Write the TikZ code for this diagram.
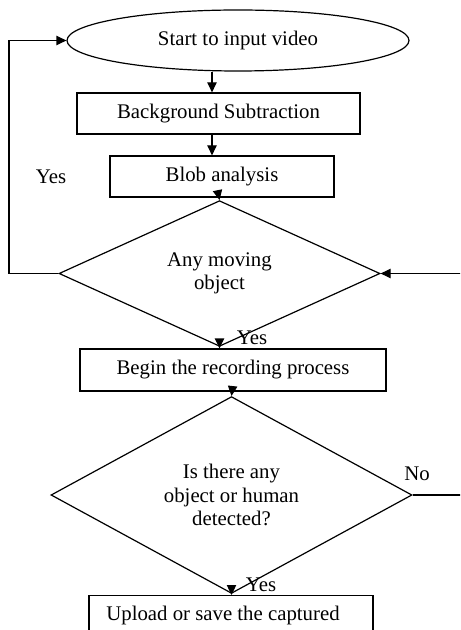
\documentclass[tikz,border=0pt]{standalone}
\usepackage{fontspec}
\setmainfont{Liberation Serif}
\usetikzlibrary{shapes.geometric,arrows.meta}
\begin{document}
\begin{tikzpicture}[x=0.75pt,y=-0.75pt,
  every node/.style={font=\fontsize{15.6}{17.6}\selectfont},
  ln/.style={line width=0.9pt},
  arr/.style={ln,-{Triangle[length=7.5pt,width=7pt]}},
  box/.style={draw,ln,rectangle,inner sep=0pt},
  term/.style={draw,ln,ellipse,inner sep=0pt},
  dec/.style={draw,ln,diamond,inner sep=0pt,align=center}]
\useasboundingbox (0,0) rectangle (460,630);
\clip (0,0) rectangle (460,630);
% nodes
\node[term,minimum width=256.5pt,minimum height=45.75pt] (start) at (238,40.5) {Start to input video};
\node[box,minimum width=212.25pt,minimum height=30.75pt] (bs) at (218.5,113.5) {Background Subtraction};
\node[box,minimum width=168pt,minimum height=30.75pt] (blob) at (222,176.5) {Blob analysis};
\node[dec,minimum width=240.75pt,minimum height=89.25pt] (d1) at (219.5,273.5) {\raisebox{-3pt}{\shortstack{Any moving\\object}}};
\node[box,minimum width=229.5pt,minimum height=31.5pt] (rec) at (233,370) {Begin the recording process};
\node[dec,minimum width=270.75pt,minimum height=124.5pt] (d2) at (231.5,495) {Is there any\\object or human\\detected?};
\node[box,anchor=north,minimum width=213pt,minimum height=60pt] (up) at (231,595) {};
\node (uptext) at (223,615) {Upload or save the captured};
% labels
\node (yesL) at (51,177) {Yes};
\node (yes1) at (252,338) {Yes};
\node (yes2) at (261,585) {Yes};
\node (no) at (417,474) {No};
% helper coordinates
\coordinate (xa) at (212,0);
\coordinate (xb) at (219,0);
\coordinate (xc) at (232,0);
\coordinate (lx) at (9,0);
\coordinate (rx) at (470,0);
% connectors
\draw[arr] (start.south -| xa) -- (bs.north -| xa);
\draw[arr] (bs.south -| xa) -- (blob.north -| xa);
\draw[arr] (blob.south -| xb) -- (d1.north);
\draw[arr] (d1.south) -- (rec.north -| d1.south);
\draw[arr] (rec.south -| xc) -- (d2.north);
\draw[arr] (d2.south) -- (up.north -| d2.south);
\draw[arr] (d1.west) -- (d1.west -| lx) -- (start.west -| lx) -- (start.west);
\draw[arr] (d1.east -| rx) -- (d1.east);
\draw[ln] (d2.east) -- (d2.east -| rx);
\end{tikzpicture}
\end{document}
